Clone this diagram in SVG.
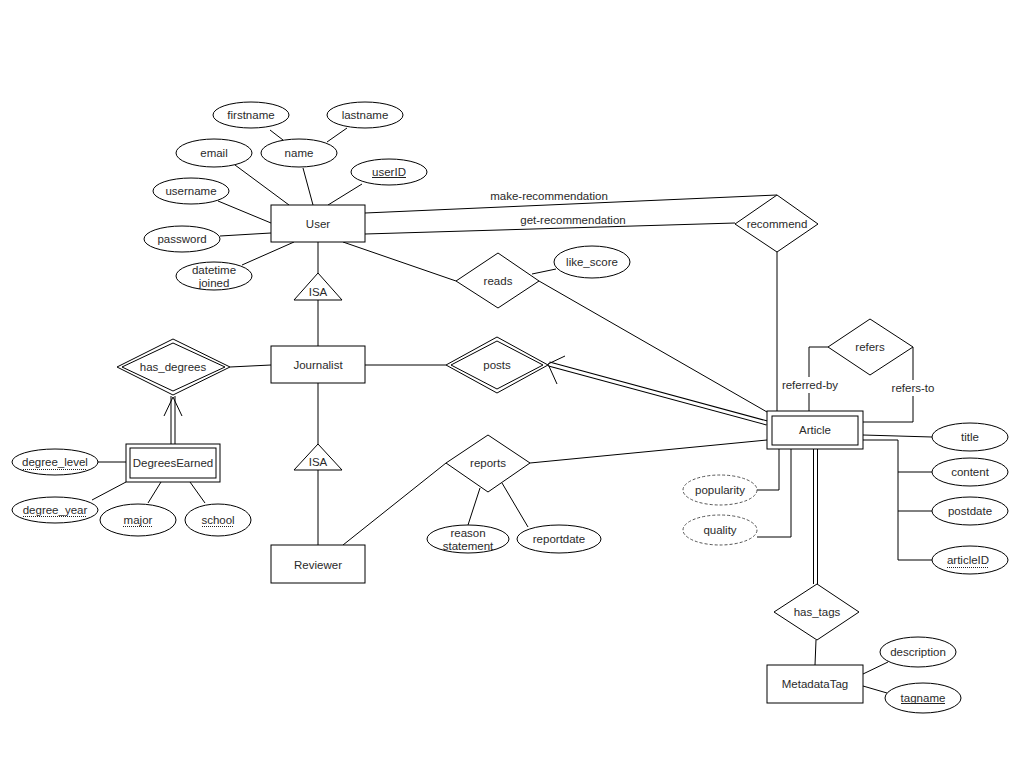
<svg xmlns="http://www.w3.org/2000/svg" width="1023" height="783" viewBox="0 0 1023 783">
<style>
.s{fill:#fff;stroke:#000;stroke-width:1}
.d{fill:#fff;stroke:#555;stroke-width:1;stroke-dasharray:3 2}
.l{fill:none;stroke:#000;stroke-width:1}
.dbo{fill:none;stroke:#000;stroke-width:5}
.dbi{fill:none;stroke:#fff;stroke-width:3}
text{font-family:"Liberation Sans",Arial,sans-serif;font-size:11.5px;fill:#2a2a2a;text-anchor:middle}
.u{stroke:#222;stroke-width:1}
.du{stroke:#222;stroke-width:1;stroke-dasharray:1 1}
</style>
<rect width="1023" height="783" fill="#fff"/>
<g id="connectors">
<line class="l" x1="270" y1="130" x2="283" y2="140"/>
<line class="l" x1="347" y1="128" x2="327" y2="142"/>
<line class="l" x1="235" y1="165" x2="289" y2="205"/>
<line class="l" x1="303" y1="168" x2="313" y2="205"/>
<line class="l" x1="362" y1="184" x2="328" y2="205"/>
<line class="l" x1="218" y1="201" x2="271" y2="223"/>
<line class="l" x1="220" y1="236" x2="271" y2="233"/>
<line class="l" x1="242" y1="265" x2="294" y2="242"/>
<line class="l" x1="318" y1="242" x2="318" y2="273"/>
<line class="l" x1="318" y1="300" x2="318" y2="346"/>
<line class="l" x1="318" y1="383" x2="318" y2="444"/>
<line class="l" x1="318" y1="470" x2="318" y2="545"/>
<line class="l" x1="365" y1="213" x2="777" y2="195"/>
<line class="l" x1="365" y1="234" x2="735" y2="223"/>
<line class="l" x1="777" y1="252" x2="777" y2="411"/>
<line class="l" x1="343" y1="242" x2="456" y2="281"/>
<line class="l" x1="539" y1="281" x2="767" y2="412"/>
<line class="l" x1="532" y1="274" x2="556" y2="269"/>
<line class="l" x1="365" y1="365" x2="446" y2="365"/>
<line class="dbo" x1="549" y1="364" x2="767" y2="423"/>
<line class="dbi" x1="549" y1="364" x2="767" y2="423"/>
<line class="l" x1="548" y1="364" x2="565" y2="356"/>
<line class="l" x1="548" y1="364" x2="557" y2="384"/>
<line class="l" x1="230" y1="367" x2="271" y2="365"/>
<line class="dbo" x1="173" y1="396" x2="173" y2="444"/>
<line class="dbi" x1="173" y1="396" x2="173" y2="444"/>
<line class="l" x1="173" y1="397" x2="164" y2="416"/>
<line class="l" x1="173" y1="397" x2="182" y2="416"/>
<line class="l" x1="97" y1="462" x2="126" y2="462"/>
<line class="l" x1="92" y1="500" x2="126" y2="482"/>
<line class="l" x1="148" y1="503" x2="161" y2="482"/>
<line class="l" x1="205" y1="503" x2="190" y2="482"/>
<line class="l" x1="343" y1="545" x2="446" y2="463"/>
<line class="l" x1="530" y1="463" x2="767" y2="440"/>
<line class="l" x1="468" y1="525" x2="480" y2="488"/>
<line class="l" x1="528" y1="527" x2="502" y2="483"/>
<polyline class="l" points="809,411 809,347 828,347"/>
<polyline class="l" points="913,347 913,422 863,422"/>
<line class="l" x1="863" y1="435" x2="932" y2="437"/>
<polyline class="l" points="863,440 898,440 898,560 932,560"/>
<line class="l" x1="898" y1="472" x2="932" y2="472"/>
<line class="l" x1="898" y1="511" x2="932" y2="511"/>
<polyline class="l" points="757,490 779,490 779,449"/>
<polyline class="l" points="757,537 791,537 791,449"/>
<line class="dbo" x1="815.5" y1="449" x2="815.5" y2="584"/>
<line class="dbi" x1="815.5" y1="449" x2="815.5" y2="584"/>
<line class="l" x1="816" y1="640" x2="815" y2="665"/>
<line class="l" x1="863" y1="674" x2="888" y2="662"/>
<line class="l" x1="863" y1="686" x2="887" y2="693"/>
<text x="549" y="200">make-recommendation</text>
<text x="573" y="224">get-recommendation</text>
<rect x="781" y="377" width="58" height="16" fill="#fff"/>
<text x="810" y="389">referred-by</text>
<rect x="888" y="380" width="50" height="16" fill="#fff"/>
<text x="913" y="392">refers-to</text>
</g>
<g id="user"><rect class="s" x="271" y="205" width="94" height="37"/><text x="318" y="228">User</text></g>
<g id="firstname"><ellipse class="s" cx="251" cy="115" rx="38" ry="13"/><text x="251" y="119">firstname</text></g>
<g id="lastname"><ellipse class="s" cx="365" cy="115" rx="38" ry="13"/><text x="365" y="119">lastname</text></g>
<g id="name"><ellipse class="s" cx="299" cy="153" rx="38" ry="14"/><text x="299" y="157">name</text></g>
<g id="email"><ellipse class="s" cx="214" cy="153" rx="38" ry="14"/><text x="214" y="157">email</text></g>
<g id="userID"><ellipse class="s" cx="389" cy="172" rx="38" ry="13"/><text x="389" y="176">userID</text><line class="u" x1="372" y1="177.5" x2="406" y2="177.5"/></g>
<g id="username"><ellipse class="s" cx="191" cy="191" rx="38" ry="13"/><text x="191" y="195">username</text></g>
<g id="password"><ellipse class="s" cx="182" cy="239" rx="38" ry="13"/><text x="182" y="243">password</text></g>
<g id="datetime"><ellipse class="s" cx="214" cy="276" rx="38" ry="14"/><text x="214" y="274">datetime</text><text x="214" y="287">joined</text></g>
<g id="isa1"><polygon class="s" points="318,273 342,300 294,300"/><text x="318" y="296">ISA</text></g>
<g id="journalist"><rect class="s" x="271" y="346" width="94" height="37"/><text x="318" y="369">Journalist</text></g>
<g id="isa2"><polygon class="s" points="318,444 342,470 294,470"/><text x="318" y="466">ISA</text></g>
<g id="reviewer"><rect class="s" x="271" y="545" width="94" height="38"/><text x="318" y="569">Reviewer</text></g>
<g id="has_degrees"><polygon class="s" points="117,367 173,339 230,367 173,395"/><polygon class="s" points="122,367 173,343 225,367 173,391"/><text x="173" y="371">has_degrees</text></g>
<g id="degreesearned"><rect class="s" x="126" y="444" width="94" height="38"/><rect class="s" x="130" y="448" width="86" height="30"/><text x="173" y="467">DegreesEarned</text></g>
<g id="degree_level"><ellipse class="s" cx="55" cy="462" rx="43" ry="13"/><text x="55" y="466">degree_level</text><line class="du" x1="23" y1="469.5" x2="87" y2="469.5"/></g>
<g id="degree_year"><ellipse class="s" cx="55" cy="510" rx="43" ry="13"/><text x="55" y="514">degree_year</text><line class="du" x1="23" y1="516.5" x2="87" y2="516.5"/></g>
<g id="major"><ellipse class="s" cx="138" cy="520" rx="38" ry="16"/><text x="138" y="524">major</text><line class="du" x1="123" y1="526.5" x2="153" y2="526.5"/></g>
<g id="school"><ellipse class="s" cx="218" cy="520" rx="33" ry="16"/><text x="218" y="524">school</text><line class="du" x1="202" y1="526.5" x2="234" y2="526.5"/></g>
<g id="reads"><polygon class="s" points="456,281 498,253 539,281 498,308"/><text x="498" y="285">reads</text></g>
<g id="like_score"><ellipse class="s" cx="592" cy="262" rx="38" ry="16"/><text x="592" y="266">like_score</text></g>
<g id="posts"><polygon class="s" points="446,365 497,337 548,365 497,393"/><polygon class="s" points="451,365 497,341 543,365 497,389"/><text x="497" y="369">posts</text></g>
<g id="reports"><polygon class="s" points="446,463 488,435 530,463 488,492"/><text x="488" y="467">reports</text></g>
<g id="reason"><ellipse class="s" cx="468" cy="539" rx="41" ry="14"/><text x="468" y="537">reason</text><text x="468" y="550">statement</text></g>
<g id="reportdate"><ellipse class="s" cx="559" cy="539" rx="42" ry="14"/><text x="559" y="543">reportdate</text></g>
<g id="recommend"><polygon class="s" points="735,224 777,195 818,224 777,252"/><text x="777" y="228">recommend</text></g>
<g id="refers"><polygon class="s" points="828,347 870,319 913,347 870,375"/><text x="870" y="351">refers</text></g>
<g id="article"><rect class="s" x="767" y="411" width="96" height="38"/><rect class="s" x="772" y="416" width="86" height="29"/><text x="815" y="434">Article</text></g>
<g id="title"><ellipse class="s" cx="970" cy="437" rx="38" ry="14"/><text x="970" y="441">title</text></g>
<g id="content"><ellipse class="s" cx="970" cy="472" rx="38" ry="14"/><text x="970" y="476">content</text></g>
<g id="postdate"><ellipse class="s" cx="970" cy="511" rx="38" ry="14"/><text x="970" y="515">postdate</text></g>
<g id="articleID"><ellipse class="s" cx="970" cy="560" rx="38" ry="14"/><text x="968" y="564">articleID</text><line class="du" x1="947" y1="567.5" x2="989" y2="567.5"/></g>
<g id="popularity"><ellipse class="d" cx="720" cy="490" rx="37" ry="15"/><text x="720" y="494">popularity</text></g>
<g id="quality"><ellipse class="d" cx="720" cy="530" rx="37" ry="15"/><text x="720" y="534">quality</text></g>
<g id="has_tags"><polygon class="s" points="774,612 817,584 859,612 817,640"/><text x="817" y="616">has_tags</text></g>
<g id="metadatatag"><rect class="s" x="767" y="665" width="96" height="38"/><text x="815" y="688">MetadataTag</text></g>
<g id="description"><ellipse class="s" cx="918" cy="652" rx="38" ry="15"/><text x="918" y="656">description</text></g>
<g id="tagname"><ellipse class="s" cx="923" cy="698" rx="38" ry="15"/><text x="923" y="702">tagname</text><line class="u" x1="901" y1="703.5" x2="945" y2="703.5"/></g>
</svg>
